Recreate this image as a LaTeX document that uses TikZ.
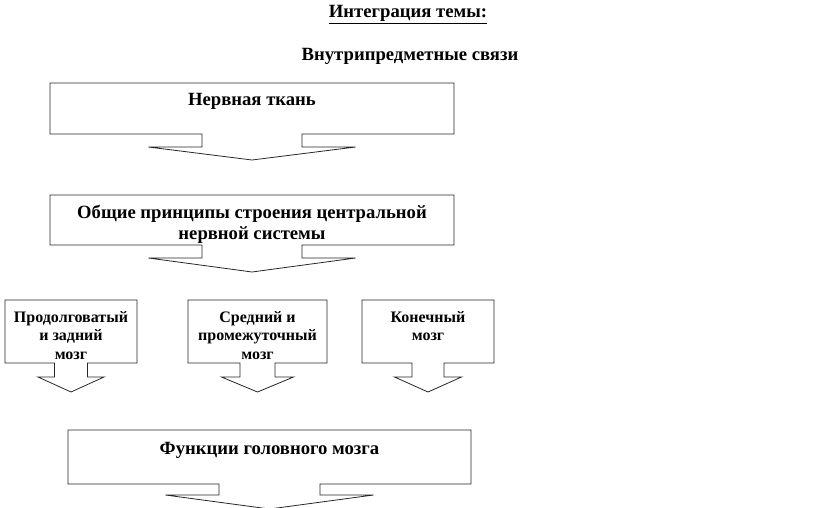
\documentclass[tikz,border=0pt]{standalone}
\usepackage{fontspec}
\setmainfont{Liberation Serif}
\usetikzlibrary{calc}

% box with an arrow hanging below it
\newcommand{\arrowbox}[5]{%
  \draw[outline] (#1.south west) -- (#1.north west) -- (#1.north east) -- (#1.south east)
    -- ($(#1.south)+(#2,0)$) -- ($(#1.south)+(#2,#4)$) -- ($(#1.south)+(#3,#4)$)
    -- ($(#1.south)+(0,#4+#5)$) -- ($(#1.south)+(-#3,#4)$) -- ($(#1.south)+(-#2,#4)$)
    -- ($(#1.south)+(-#2,0)$) -- cycle;}

\begin{document}
\begin{tikzpicture}[x=0.75pt,y=-0.75pt,
        outline/.style={draw=black!85,line width=0.6pt,line join=miter},
        box/.style={inner sep=0pt,outer sep=0pt},
        bigtext/.style={inner sep=0pt,anchor=north,align=center,font=\fontsize{14}{15.8}\selectfont\bfseries},
        smalltext/.style={inner sep=0pt,anchor=north,align=center,font=\fontsize{12}{13.9}\selectfont\bfseries}]
        \useasboundingbox (0,0) rectangle (816,507);
        % headings
        \node[bigtext] (theme) at (408,5) {\underline{Интеграция темы:}};
        \node[bigtext] (links) at (410,48) {Внутрипредметные связи};
        % boxes
        \node[box,minimum width=303pt,minimum height=38.25pt] (tissue) at (252,108.5) {};
        \node[box,minimum width=303pt,minimum height=37.5pt] (cns) at (252,220) {};
        \node[box,minimum width=99pt,minimum height=47.25pt] (hind) at (71,331.5) {};
        \node[box,minimum width=104.25pt,minimum height=47.25pt] (mid) at (257.5,331.5) {};
        \node[box,minimum width=99pt,minimum height=47.25pt] (end) at (428,331.5) {};
        \node[box,minimum width=302.25pt,minimum height=40.5pt] (func) at (269.5,457) {};
        \arrowbox{tissue}{50}{103.5}{13}{13}
        \arrowbox{cns}{50}{103.5}{13}{14}
        \arrowbox{hind}{16.5}{33}{14}{15}
        \arrowbox{mid}{17.5}{36}{14}{15}
        \arrowbox{end}{16}{33.5}{14}{15}
        \arrowbox{func}{50.5}{104}{11}{14}
        % texts
        \node[bigtext] (tissue-t) at ($(tissue.north)+(0,10)$) {Нервная ткань};
        \node[bigtext] (cns-t) at ($(cns.north)+(0,10)$) {Общие принципы строения центральной\\нервной системы};
        \node[smalltext] (hind-t) at ($(hind.north)+(0,11)$) {Продолговатый\\и задний\\мозг};
        \node[smalltext] (mid-t) at ($(mid.north)+(0,11)$) {Средний и\\промежуточный\\мозг};
        \node[smalltext] (end-t) at ($(end.north)+(0,11)$) {Конечный\\мозг};
        \node[bigtext] (func-t) at ($(func.north)+(0,12)$) {Функции головного мозга};
\end{tikzpicture}
\end{document}
